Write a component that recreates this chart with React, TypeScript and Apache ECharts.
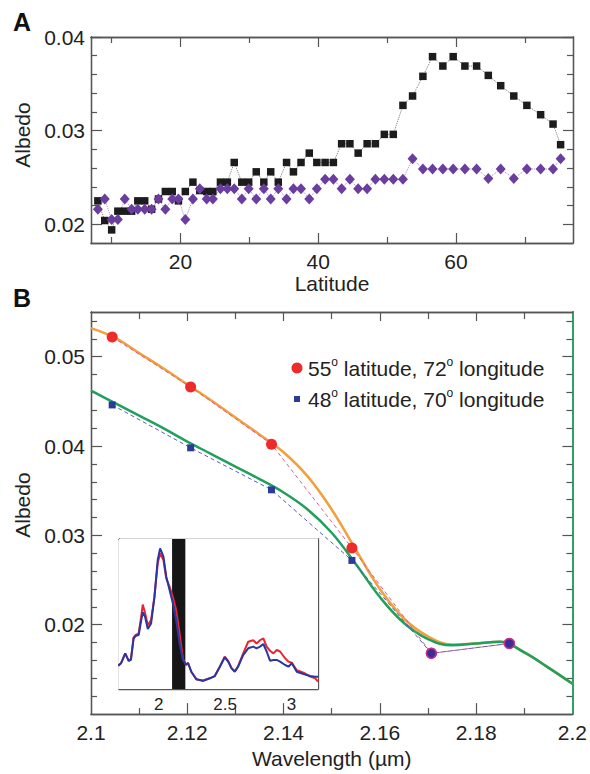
import React, { useEffect, useRef } from "react";
import * as echarts from "echarts";

// ---------- Panel A data ----------
const latitudes = [
  8.0, 9.0, 10.0, 10.9, 11.9, 12.9, 13.8, 14.8, 15.8, 16.8, 17.8, 18.8, 19.7, 20.7, 21.8, 22.8, 23.8, 24.7,
  25.8, 26.8, 27.8, 28.9, 29.9, 31.0, 32.1, 33.1, 34.2, 35.4, 36.4, 37.5, 38.7, 39.8, 41.0, 42.2, 43.4, 44.6,
  45.8, 47.1, 48.3, 49.6, 50.9, 52.3, 53.7, 55.2, 56.6, 58.1, 59.6, 61.3, 63.0, 64.7, 66.5, 68.4, 70.3, 72.3,
  74.1, 75.2,
];
const albedoBlack = [
  0.0225, 0.0204, 0.0194, 0.0214, 0.0214, 0.0214, 0.0225, 0.0225, 0.0216, 0.0227, 0.0235, 0.0235, 0.0225,
  0.0235, 0.0245, 0.0236, 0.0235, 0.0235, 0.0245, 0.0245, 0.0266, 0.0245, 0.0245, 0.0256, 0.0245, 0.0256,
  0.0245, 0.0266, 0.0256, 0.0266, 0.0276, 0.0266, 0.0266, 0.0266, 0.0286, 0.0286, 0.0276, 0.0286, 0.0286,
  0.0296, 0.0296, 0.0327, 0.0337, 0.0358, 0.0379, 0.0369, 0.0379, 0.0369, 0.0369, 0.0359, 0.0348, 0.0337,
  0.0327, 0.0317, 0.0307, 0.0285,
];
const albedoPurple = [
  0.0216, 0.0227, 0.0205, 0.0205, 0.0227, 0.0216, 0.0216, 0.0216, 0.0216, 0.0227, 0.0216, 0.0227, 0.0227,
  0.0205, 0.0227, 0.0238, 0.0227, 0.0227, 0.0238, 0.0238, 0.0238, 0.0227, 0.0238, 0.0227, 0.0238, 0.0227,
  0.0238, 0.0227, 0.0238, 0.0238, 0.0227, 0.0238, 0.0248, 0.0248, 0.0238, 0.0248, 0.0238, 0.0238, 0.0248,
  0.0248, 0.0248, 0.0248, 0.027, 0.0259, 0.0259, 0.0259, 0.0259, 0.0259, 0.0259, 0.0249, 0.0259, 0.0249,
  0.0259, 0.0259, 0.0259, 0.027,
];
const latTicksMinor = [10, 30, 50, 70];
const latTicksMajor = [20, 40, 60];
const albATicksMinor = [0.022, 0.024, 0.026, 0.028, 0.032, 0.034, 0.036, 0.038];
const albATicksMajor = [0.02, 0.03, 0.04];

// ---------- Panel B data ----------
const bandWl = [2.1044, 2.1207, 2.1375, 2.1542, 2.1707, 2.1869];
const albedo55 = [0.0522, 0.0466, 0.0402, 0.0286, 0.0168, 0.0179];
const albedo48 = [0.0446, 0.0398, 0.0351, 0.0272, 0.0168, 0.0179];

const modelWl = [
  2.1, 2.105, 2.11, 2.115, 2.12, 2.125, 2.13, 2.135, 2.14, 2.145, 2.15, 2.155, 2.16, 2.165, 2.17, 2.175, 2.18,
  2.185, 2.19, 2.195, 2.2,
];
const model55 = [
  0.0532, 0.0521, 0.0504, 0.0487, 0.0469, 0.0451, 0.0432, 0.0413, 0.0393, 0.0366, 0.0329, 0.0284, 0.024, 0.0207,
  0.0187, 0.0178, 0.0179, 0.0181, 0.0169, 0.0152, 0.0134,
];
const model48 = [
  0.0462, 0.0448, 0.0434, 0.042, 0.0405, 0.0391, 0.0377, 0.0363, 0.0348, 0.0329, 0.0303, 0.0268, 0.0231, 0.0202,
  0.0184, 0.0177, 0.0179, 0.0181, 0.0169, 0.0152, 0.0134,
];
const wlTicksMinor = [2.11, 2.13, 2.15, 2.17, 2.19];
const wlTicksMajor = [2.12, 2.14, 2.16, 2.18];
const wlLabels = [2.1, 2.12, 2.14, 2.16, 2.18, 2.2];
const albBTicksMinor = [
  0.012, 0.014, 0.016, 0.018, 0.022, 0.024, 0.026, 0.028, 0.032, 0.034, 0.036, 0.038, 0.042, 0.044, 0.046, 0.048,
  0.052, 0.054,
];
const albBTicksMajor = [0.02, 0.03, 0.04, 0.05];

// ---------- Inset data ----------
const insetWl = [
  1.694, 1.715, 1.747, 1.773, 1.79, 1.81, 1.828, 1.848, 1.866, 1.879, 1.896, 1.917, 1.942, 1.967, 1.992, 2.01,
  2.035, 2.056, 2.081, 2.106, 2.131, 2.157, 2.182, 2.207, 2.22, 2.245, 2.283, 2.333, 2.384, 2.422, 2.46, 2.497,
  2.523, 2.548, 2.573, 2.598, 2.636, 2.674, 2.712, 2.737, 2.763, 2.788, 2.813, 2.838, 2.864, 2.889, 2.914, 2.952,
  2.977, 3.003, 3.04, 3.091, 3.141, 3.179, 3.2,
];
const insetBlue = [
  1.24, 1.37, 1.9, 1.5, 1.55, 2.7, 2.84, 2.88, 3.6, 4.1, 3.86, 3.2, 3.5, 4.9, 6.9, 7.5, 7.06, 6.0, 5.28, 4.57,
  3.68, 2.43, 1.55, 1.28, 1.4, 0.92, 0.52, 0.44, 0.57, 0.69, 1.19, 1.69, 1.46, 1.1, 0.92, 1.19, 1.81, 2.17, 2.26,
  2.17, 2.26, 2.4, 2.0, 1.51, 1.55, 1.55, 1.46, 1.28, 1.19, 1.37, 0.92, 0.8, 0.69, 0.66, 0.66,
];
const insetRed = [
  1.24, 1.37, 1.9, 1.5, 1.6, 2.75, 2.9, 2.95, 3.8, 4.5, 4.07, 3.4, 3.68, 4.9, 6.7, 7.24, 6.88, 5.9, 5.46, 4.92,
  4.2, 2.97, 1.6, 1.28, 1.4, 0.92, 0.52, 0.44, 0.57, 0.69, 1.19, 1.72, 1.5, 1.12, 0.95, 1.22, 1.9, 2.52, 2.6,
  2.43, 2.6, 2.7, 2.26, 2.04, 1.9, 2.08, 2.0, 1.64, 1.46, 1.4, 1.0, 0.87, 0.66, 0.57, 0.4,
];
const insetBand = [2.1, 2.2];
const insetXTicks = [1.75, 2, 2.25, 2.5, 2.75, 3];
const insetXLabels = [2, 2.5, 3];
const insetYTicks = [1, 2, 3, 4, 5, 6, 7];
const INSET_YMIN = 0;
const INSET_YMAX = 8;

const FONT = "Liberation Sans, Arial, Helvetica, sans-serif";
const AXIS = "#555";
const TXT = "#222";

function axis(
  gridIndex: number,
  position: string,
  min: number,
  max: number,
  ticks: number[],
  tickLen: number,
  labels: number[] | null,
  extra: any = {},
  lineColor = AXIS,
  lineWidth = 1.3
) {
  return {
    type: "value",
    gridIndex,
    position,
    min,
    max,
    axisLine: { show: true, onZero: false, lineStyle: { color: lineColor, width: lineWidth } },
    axisTick: {
      show: true,
      inside: true,
      length: tickLen,
      customValues: ticks,
      lineStyle: { color: AXIS, width: 1.2 },
    },
    axisLabel: labels
      ? {
          show: true,
          customValues: labels,
          color: TXT,
          fontFamily: FONT,
          fontSize: 21,
          margin: 7,
          ...(extra.labelExtra || {}),
        }
      : { show: false },
    splitLine: { show: false },
    ...(extra.rest || {}),
  };
}

export default function App() {
  const ref = useRef<HTMLDivElement>(null);

  useEffect(() => {
    if (!ref.current) return;
    const chart = echarts.init(ref.current, undefined, { renderer: "svg" });

    const fmt2 = (v: number) => v.toFixed(2);
    const fmtShort = (v: number) => String(Number(v.toFixed(2)));

    const xAxes = [
      // Panel A (0-3)
      axis(0, "bottom", 7, 77, latTicksMinor, 6, null),
      axis(0, "bottom", 7, 77, latTicksMajor, 10, latTicksMajor, {
        labelExtra: { margin: 8 },
        rest: {
          name: "Latitude",
          nameLocation: "middle",
          nameGap: 29,
          nameTextStyle: { fontFamily: FONT, fontSize: 21, color: TXT },
        },
      }),
      axis(0, "top", 7, 77, latTicksMinor, 6, null),
      axis(0, "top", 7, 77, latTicksMajor, 10, null),
      // Panel B (4-7)
      axis(1, "bottom", 2.1, 2.2, wlTicksMinor, 6, null),
      axis(1, "bottom", 2.1, 2.2, wlTicksMajor, 11, wlLabels, {
        labelExtra: { formatter: fmtShort, margin: 8 },
        rest: {
          name: "Wavelength (µm)",
          nameLocation: "middle",
          nameGap: 27,
          nameTextStyle: { fontFamily: FONT, fontSize: 21, color: TXT },
        },
      }),
      axis(1, "top", 2.1, 2.2, wlTicksMinor, 7, null),
      axis(1, "top", 2.1, 2.2, wlTicksMajor, 9, null),
      // Inset (8-9)
      axis(2, "bottom", 1.7, 3.2, insetXTicks, 5, insetXLabels, {
        labelExtra: { fontSize: 17, margin: 7, formatter: fmtShort },
      }),
      axis(2, "top", 1.7, 3.2, insetXTicks, 5, null),
    ];

    const yAxes = [
      // Panel A (0-3)
      axis(0, "left", 0.018, 0.04, albATicksMinor, 6, null),
      axis(0, "left", 0.018, 0.04, albATicksMajor, 11, albATicksMajor, {
        labelExtra: { formatter: fmt2, margin: 6 },
        rest: {
          name: "Albedo",
          nameLocation: "middle",
          nameGap: 54,
          nameRotate: 90,
          nameTextStyle: { fontFamily: FONT, fontSize: 21, color: TXT, padding: [0, 0, 0, 10] },
        },
      }),
      axis(0, "right", 0.018, 0.04, albATicksMinor, 6, null),
      axis(0, "right", 0.018, 0.04, albATicksMajor, 10, null),
      // Panel B (4-7)
      axis(1, "left", 0.01, 0.055, albBTicksMinor, 6, null),
      axis(1, "left", 0.01, 0.055, albBTicksMajor, 11, albBTicksMajor, {
        labelExtra: { formatter: fmt2, margin: 6 },
        rest: {
          name: "Albedo",
          nameLocation: "middle",
          nameGap: 54,
          nameRotate: 90,
          nameTextStyle: { fontFamily: FONT, fontSize: 21, color: TXT, padding: [0, 0, 0, 16] },
        },
      }),
      axis(1, "right", 0.01, 0.055, albBTicksMinor, 6, null, {}, "#2ea463", 2),
      axis(1, "right", 0.01, 0.055, albBTicksMajor, 10, null, {}, "#2ea463", 2),
      // Inset (8-9)
      axis(2, "left", INSET_YMIN, INSET_YMAX, insetYTicks, 5, null),
      axis(2, "right", INSET_YMIN, INSET_YMAX, insetYTicks, 5, null),
    ];

    const zip = (xs: number[], ys: number[]) => xs.map((x, i) => [x, ys[i]]);

    const option: any = {
      animation: false,
      backgroundColor: "#ffffff",
      grid: [
        { left: 91, top: 37, width: 482, height: 206, containLabel: false },
        { left: 91, top: 312, width: 482, height: 412, containLabel: false },
        {
          left: 119,
          top: 539,
          width: 199,
          height: 150,
          containLabel: false,
          show: true,
          backgroundColor: "#ffffff",
          borderWidth: 0,
          z: 5,
        },
      ],
      xAxis: xAxes,
      yAxis: yAxes,
      series: [
        {
          name: "lat-black",
          type: "line",
          xAxisIndex: 1,
          yAxisIndex: 1,
          data: zip(latitudes, albedoBlack),
          symbol: "rect",
          symbolSize: 7.5,
          itemStyle: { color: "#1c1c1c" },
          lineStyle: { color: "#777", width: 1, type: "dotted" },
        },
        {
          name: "lat-purple",
          type: "line",
          xAxisIndex: 1,
          yAxisIndex: 1,
          data: zip(latitudes, albedoPurple),
          symbol: "diamond",
          symbolSize: [10, 11],
          itemStyle: { color: "#6a3d9e" },
          lineStyle: { color: "#a08cc8", width: 1, type: "dotted" },
        },
        {
          name: "model55",
          type: "line",
          xAxisIndex: 5,
          yAxisIndex: 5,
          data: zip(modelWl, model55),
          smooth: 0.4,
          symbol: "none",
          lineStyle: { color: "#f2a03c", width: 2.5 },
        },
        {
          name: "model48",
          type: "line",
          xAxisIndex: 5,
          yAxisIndex: 5,
          data: zip(modelWl, model48),
          smooth: 0.4,
          symbol: "none",
          lineStyle: { color: "#1fa05c", width: 2.5 },
        },
        {
          name: "55° latitude, 72° longitude",
          type: "line",
          xAxisIndex: 5,
          yAxisIndex: 5,
          data: zip(bandWl, albedo55),
          symbol: "circle",
          symbolSize: 11,
          itemStyle: { color: "#ee2b2b" },
          lineStyle: { color: "#d46098", width: 1, type: [4, 3] },
        },
        {
          name: "48° latitude, 70° longitude",
          type: "line",
          xAxisIndex: 5,
          yAxisIndex: 5,
          data: zip(bandWl, albedo48).map((p, i) =>
            i >= 4
              ? {
                  value: p,
                  symbol: "circle",
                  symbolSize: 10,
                  itemStyle: { color: "#3b2c9c", borderColor: "#c8308a", borderWidth: 1.5 },
                }
              : p
          ),
          symbol: "rect",
          symbolSize: 7,
          itemStyle: { color: "#2b3b9b" },
          lineStyle: { color: "#5a5ab8", width: 1, type: [4, 3] },
        },
        {
          name: "inset-band",
          type: "custom",
          xAxisIndex: 8,
          yAxisIndex: 8,
          z: 6,
          silent: true,
          data: [[insetBand[0], insetBand[1]]],
          renderItem: (params: any, api: any) => {
            const p0 = api.coord([api.value(0), INSET_YMAX]);
            const p1 = api.coord([api.value(1), INSET_YMIN]);
            return {
              type: "rect",
              shape: { x: p0[0], y: p0[1], width: p1[0] - p0[0], height: p1[1] - p0[1] },
              style: { fill: "#161616" },
            };
          },
        },
        {
          name: "inset-red",
          type: "line",
          xAxisIndex: 8,
          yAxisIndex: 8,
          data: zip(insetWl, insetRed),
          symbol: "none",
          z: 7,
          lineStyle: { color: "#e8262c", width: 2 },
        },
        {
          name: "inset-blue",
          type: "line",
          xAxisIndex: 8,
          yAxisIndex: 8,
          data: zip(insetWl, insetBlue),
          symbol: "none",
          z: 8,
          lineStyle: { color: "#2a36a6", width: 2 },
        },
      ],
      graphic: [
        {
          type: "text",
          left: 13,
          top: 9,
          style: { text: "A", font: `bold 25px ${FONT}`, fill: "#111" },
        },
        {
          type: "text",
          left: 13,
          top: 285,
          style: { text: "B", font: `bold 25px ${FONT}`, fill: "#111" },
        },
        {
          type: "circle",
          shape: { cx: 297, cy: 368, r: 5.5 },
          style: { fill: "#ee2b2b" },
        },
        {
          type: "rect",
          shape: { x: 294, y: 396, width: 6, height: 6 },
          style: { fill: "#2b3b9b" },
        },
        {
          type: "text",
          x: 308,
          y: 368,
          style: {
            text: "{n|55}{s|o}{n| latitude, 72}{s|o}{n| longitude}",
            verticalAlign: "middle",
            rich: {
              n: { fontFamily: FONT, fontSize: 21, fill: TXT, lineHeight: 24 },
              s: { fontFamily: FONT, fontSize: 12, fill: TXT, lineHeight: 11, verticalAlign: "top" },
            },
          },
        },
        {
          type: "text",
          x: 308,
          y: 399,
          style: {
            text: "{n|48}{s|o}{n| latitude, 70}{s|o}{n| longitude}",
            verticalAlign: "middle",
            rich: {
              n: { fontFamily: FONT, fontSize: 21, fill: TXT, lineHeight: 24 },
              s: { fontFamily: FONT, fontSize: 12, fill: TXT, lineHeight: 11, verticalAlign: "top" },
            },
          },
        },
      ],
    };

    chart.setOption(option);
    return () => chart.dispose();
  }, []);

  return (
    <div
      ref={ref}
      style={{ position: "absolute", left: 0, top: 0, width: 590, height: 774, background: "#fff" }}
    />
  );
}
